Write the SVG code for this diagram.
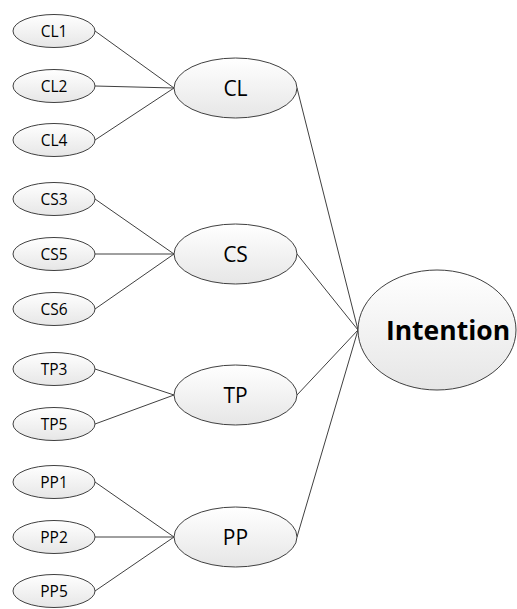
<svg xmlns="http://www.w3.org/2000/svg" width="517" height="609" viewBox="0 0 517 609">
<defs>
<linearGradient id="g" x1="0" y1="0" x2="0" y2="1">
<stop offset="0" stop-color="#ffffff"/>
<stop offset="1" stop-color="#e6e6e6"/>
</linearGradient>
</defs>
<style>
.n{fill:url(#g);stroke:#404040;stroke-width:1}
.s{font-family:"Open Sans","Liberation Sans",sans-serif;font-size:15.5px;fill:#000;text-anchor:middle;dominant-baseline:central}
.b{font-family:"Open Sans","Liberation Sans",sans-serif;font-size:21px;fill:#000;text-anchor:middle;dominant-baseline:central}
.i{font-family:"Open Sans","Liberation Sans",sans-serif;font-size:26.5px;font-weight:bold;fill:#000;text-anchor:middle;dominant-baseline:central}
.c line{stroke:#404040;stroke-width:1}
</style>
<g class="c" id="connectors">
<line x1="95" y1="31" x2="174" y2="88"/>
<line x1="95" y1="86" x2="174" y2="88"/>
<line x1="95" y1="140" x2="174" y2="88"/>
<line x1="95" y1="199" x2="174" y2="254"/>
<line x1="95" y1="254" x2="174" y2="254"/>
<line x1="95" y1="309" x2="174" y2="254"/>
<line x1="95" y1="369" x2="174" y2="395"/>
<line x1="95" y1="424" x2="174" y2="395"/>
<line x1="95" y1="482" x2="174" y2="537"/>
<line x1="95" y1="537" x2="174" y2="537"/>
<line x1="95" y1="591" x2="174" y2="537"/>
<line x1="297" y1="88" x2="358" y2="330"/>
<line x1="297" y1="254" x2="358" y2="330"/>
<line x1="297" y1="395" x2="358" y2="330"/>
<line x1="297" y1="537" x2="358" y2="330"/>
</g>
<g id="CL1"><ellipse class="n" cx="54" cy="31" rx="41" ry="16.5"/><text class="s" x="54" y="31">CL1</text></g>
<g id="CL2"><ellipse class="n" cx="54" cy="86" rx="41" ry="16.5"/><text class="s" x="54" y="86">CL2</text></g>
<g id="CL4"><ellipse class="n" cx="54" cy="140" rx="41" ry="16.5"/><text class="s" x="54" y="140">CL4</text></g>
<g id="CS3"><ellipse class="n" cx="54" cy="199" rx="41" ry="16.5"/><text class="s" x="54" y="199">CS3</text></g>
<g id="CS5"><ellipse class="n" cx="54" cy="254" rx="41" ry="16.5"/><text class="s" x="54" y="254">CS5</text></g>
<g id="CS6"><ellipse class="n" cx="54" cy="309" rx="41" ry="16.5"/><text class="s" x="54" y="309">CS6</text></g>
<g id="TP3"><ellipse class="n" cx="54" cy="369" rx="41" ry="16.5"/><text class="s" x="54" y="369">TP3</text></g>
<g id="TP5"><ellipse class="n" cx="54" cy="424" rx="41" ry="16.5"/><text class="s" x="54" y="424">TP5</text></g>
<g id="PP1"><ellipse class="n" cx="54" cy="482" rx="41" ry="16.5"/><text class="s" x="54" y="482">PP1</text></g>
<g id="PP2"><ellipse class="n" cx="54" cy="537" rx="41" ry="16.5"/><text class="s" x="54" y="537">PP2</text></g>
<g id="PP5"><ellipse class="n" cx="54" cy="591" rx="41" ry="16.5"/><text class="s" x="54" y="591">PP5</text></g>
<g id="CL"><ellipse class="n" cx="235.5" cy="88" rx="61.5" ry="30"/><text class="b" x="235.5" y="88">CL</text></g>
<g id="CS"><ellipse class="n" cx="235.5" cy="254" rx="61.5" ry="30"/><text class="b" x="235.5" y="254">CS</text></g>
<g id="TP"><ellipse class="n" cx="235.5" cy="395" rx="61.5" ry="30"/><text class="b" x="235.5" y="395">TP</text></g>
<g id="PP"><ellipse class="n" cx="235.5" cy="537" rx="61.5" ry="30"/><text class="b" x="235.5" y="537">PP</text></g>
<g id="Intention"><ellipse class="n" cx="437" cy="330" rx="79" ry="60"/><text class="i" x="448" y="330">Intention</text></g>
</svg>
